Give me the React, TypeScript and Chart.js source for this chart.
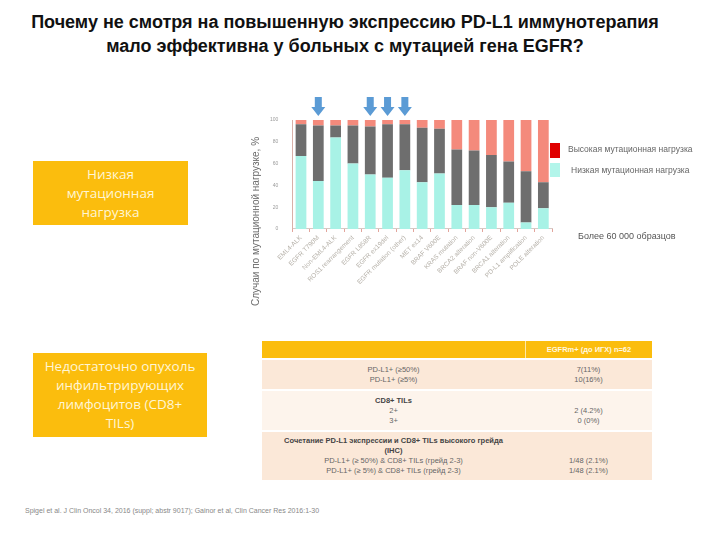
import React, { useEffect, useRef } from "react";
import { Chart, registerables } from "chart.js";

Chart.register(...registerables);

const categories = [
  "EML4-ALK",
  "EGFR T790M",
  "Non-EML4-ALK",
  "ROS1 rearrangement",
  "EGFR L858R",
  "EGFR ex19del",
  "EGFR mutation (other)",
  "MET ex14",
  "BRAF V600E",
  "KRAS mutation",
  "BRCA2 alteration",
  "BRAF non-V600E",
  "BRCA1 alteration",
  "PD-L1 amplification",
  "POLE alteration",
];
const lowTMB = [67, 44, 84, 60, 50, 47, 54, 43, 51, 22, 22, 20, 24, 6, 19];
const midTMB = [29, 51, 11, 35, 44, 49, 42, 50, 41, 51, 50, 48, 38, 47, 24];
const highTMB = [4, 5, 5, 5, 6, 4, 4, 7, 8, 27, 28, 32, 38, 47, 57];
const yTicks = [0, 20, 40, 60, 80, 100];
const arrowIdx = [1, 4, 5, 6];

const CYAN = "#a8f2e6";
const GRAY = "#6e6e6e";
const SALMON = "#f48a7c";
const ORANGE = "#fbbd0d";

const arrowPlugin = {
  id: "arrows",
  afterDraw(chart: any) {
    const ctx = chart.ctx;
    const xs = chart.scales.x;
    const top = chart.chartArea.top;
    ctx.save();
    ctx.fillStyle = "#5b9bd5";
    arrowIdx.forEach((i) => {
      const x = xs.getPixelForValue(i);
      const y0 = top - 23;
      const y1 = top - 4;
      ctx.beginPath();
      ctx.moveTo(x - 3.5, y0);
      ctx.lineTo(x + 3.5, y0);
      ctx.lineTo(x + 3.5, y0 + 10);
      ctx.lineTo(x + 7, y0 + 10);
      ctx.lineTo(x, y1);
      ctx.lineTo(x - 7, y0 + 10);
      ctx.lineTo(x - 3.5, y0 + 10);
      ctx.closePath();
      ctx.fill();
    });
    ctx.restore();
  },
};

function BarChart() {
  const ref = useRef<HTMLCanvasElement>(null);
  useEffect(() => {
    if (!ref.current) return;
    const chart = new Chart(ref.current, {
      type: "bar",
      data: {
        labels: categories,
        datasets: [
          { label: "Низкая мутационная нагрузка", data: lowTMB, backgroundColor: CYAN },
          { label: "Средняя мутационная нагрузка", data: midTMB, backgroundColor: GRAY },
          { label: "Высокая мутационная нагрузка", data: highTMB, backgroundColor: SALMON },
        ],
      },
      options: {
        animation: false,
        responsive: false,
        maintainAspectRatio: false,
        layout: { padding: { top: 30, left: 24, right: 8, bottom: 24 } },
        plugins: { legend: { display: false }, tooltip: { enabled: false } },
        datasets: { bar: { barPercentage: 0.62, categoryPercentage: 1 } },
        scales: {
          x: {
            stacked: true,
            grid: { drawOnChartArea: false, drawTicks: true, tickLength: 3, color: "#e2a59c", offset: true },
            border: { display: true, color: "#d8c8c4" },
            ticks: {
              autoSkip: false,
              maxRotation: 45,
              minRotation: 45,
              color: "#b5b0a8",
              font: { family: "Liberation Sans", size: 6.5 },
              padding: 2,
            },
          },
          y: {
            stacked: true,
            min: 0,
            max: 100,
            afterBuildTicks: (axis: any) => {
              axis.ticks = yTicks.map((v) => ({ value: v }));
            },
            grid: { display: false },
            border: { display: true, color: "#d9b0a8" },
            ticks: { color: "#9a9a9a", font: { family: "Liberation Sans", size: 5 }, padding: 6 },
          },
        },
      },
      plugins: [arrowPlugin],
    });
    return () => chart.destroy();
  }, []);
  return (
    <canvas
      ref={ref}
      width={320}
      height={222}
      style={{ position: "absolute", left: 240, top: 90, width: 320, height: 222 }}
    />
  );
}

const box: React.CSSProperties = {
  position: "absolute",
  background: ORANGE,
  color: "#fff6d5",
  fontFamily: "'Open Sans', sans-serif",
  fontSize: 13.5,
  lineHeight: "19px",
  textAlign: "center",
  display: "flex",
  alignItems: "center",
  justifyContent: "center",
};

const cellFont: React.CSSProperties = {
  fontFamily: "'Liberation Sans', sans-serif",
  fontSize: 7.5,
  color: "#666",
  lineHeight: "10px",
  textAlign: "center",
};

export default function App() {
  return (
    <div
      style={{
        position: "absolute",
        left: 0,
        top: 0,
        width: 720,
        height: 540,
        background: "#fff",
        overflow: "hidden",
      }}
    >
      <div
        style={{
          position: "absolute",
          left: 0,
          top: 10,
          width: 690,
          textAlign: "center",
          fontFamily: "'Liberation Sans', Arial, sans-serif",
          fontWeight: "bold",
          fontSize: 18,
          lineHeight: "24px",
          color: "#111",
        }}
      >
        Почему не смотря на повышенную экспрессию PD-L1 иммунотерапия
        <br />
        мало эффективна у больных с мутацией гена EGFR?
      </div>

      <div style={{ ...box, left: 33, top: 161, width: 155, height: 64 }}>
        Низкая
        <br />
        мутационная
        <br />
        нагрузка
      </div>
      <div style={{ ...box, left: 33, top: 353, width: 174, height: 84 }}>
        Недостаточно опухоль
        <br />
        инфильтрирующих
        <br />
        лимфоцитов (CD8+
        <br />
        TILs)
      </div>

      <BarChart />

      <div
        style={{
          position: "absolute",
          left: 250,
          top: 306,
          width: 12,
          height: 12,
          lineHeight: "12px",
          transformOrigin: "0 0",
          transform: "rotate(-90deg)",
          fontFamily: "'Liberation Sans', sans-serif",
          fontSize: 10,
          fontWeight: "normal",
          color: "#6a6a6a",
          whiteSpace: "nowrap",
        }}
      >
        Случаи по мутационной нагрузке, %
      </div>

      <div style={{ position: "absolute", left: 550, top: 143, width: 10, height: 15, background: "#e00000" }} />
      <div
        style={{
          position: "absolute",
          left: 568,
          top: 144,
          fontFamily: "'Liberation Sans', sans-serif",
          fontSize: 8.5,
          color: "#666",
          whiteSpace: "nowrap",
        }}
      >
        Высокая мутационная нагрузка
      </div>
      <div style={{ position: "absolute", left: 550, top: 163, width: 10, height: 14, background: "#b2f5ea" }} />
      <div
        style={{
          position: "absolute",
          left: 571,
          top: 165,
          fontFamily: "'Liberation Sans', sans-serif",
          fontSize: 8.5,
          color: "#666",
          whiteSpace: "nowrap",
        }}
      >
        Низкая мутационная нагрузка
      </div>
      <div
        style={{
          position: "absolute",
          left: 578,
          top: 231,
          fontFamily: "'Liberation Sans', sans-serif",
          fontSize: 9,
          color: "#555",
          whiteSpace: "nowrap",
        }}
      >
        Более 60 000 образцов
      </div>

      <div style={{ position: "absolute", left: 262, top: 341, width: 390 }}>
        <div style={{ display: "flex", height: 17, background: ORANGE, marginBottom: 2 }}>
          <div style={{ width: 263 }} />
          <div style={{ width: 1, background: "#fde9a8" }} />
          <div
            style={{
              flex: 1,
              ...cellFont,
              color: "#fff8e0",
              fontWeight: "bold",
              lineHeight: "17px",
            }}
          >
            EGFRm+ (до ИГХ) n=62
          </div>
        </div>
        <div style={{ display: "flex", height: 29, background: "#fbe8d8", marginBottom: 2, alignItems: "center" }}>
          <div style={{ width: 263, ...cellFont }}>
            PD-L1+ (≥50%)
            <br />
            PD-L1+ (≥5%)
          </div>
          <div style={{ flex: 1, ...cellFont }}>
            7(11%)
            <br />
            10(16%)
          </div>
        </div>
        <div style={{ display: "flex", height: 39, background: "#fdf4ec", marginBottom: 2, alignItems: "center" }}>
          <div style={{ width: 263, ...cellFont }}>
            <b style={{ color: "#444" }}>CD8+ TILs</b>
            <br />
            2+
            <br />
            3+
          </div>
          <div style={{ flex: 1, ...cellFont }}>
            <br />
            2 (4.2%)
            <br />
            0 (0%)
          </div>
        </div>
        <div style={{ display: "flex", height: 48, background: "#fbe8d8", alignItems: "center" }}>
          <div style={{ width: 263, ...cellFont }}>
            <b style={{ color: "#444" }}>
              Сочетание PD-L1 экспрессии и CD8+ TILs высокого грейда
              <br />
              (IHC)
            </b>
            <br />
            PD-L1+ (≥ 50%) &amp; CD8+ TILs (грейд 2-3)
            <br />
            PD-L1+ (≥ 5%) &amp; CD8+ TILs (грейд 2-3)
          </div>
          <div style={{ flex: 1, ...cellFont }}>
            <br />
            <br />
            1/48 (2.1%)
            <br />
            1/48 (2.1%)
          </div>
        </div>
      </div>

      <div
        style={{
          position: "absolute",
          left: 25,
          top: 507,
          fontFamily: "'Liberation Sans', sans-serif",
          fontSize: 7,
          color: "#888",
          whiteSpace: "nowrap",
        }}
      >
        Spigel et al. J Clin Oncol 34, 2016 (suppl; abstr 9017); Gainor et al, Clin Cancer Res 2016:1-30
      </div>
    </div>
  );
}
